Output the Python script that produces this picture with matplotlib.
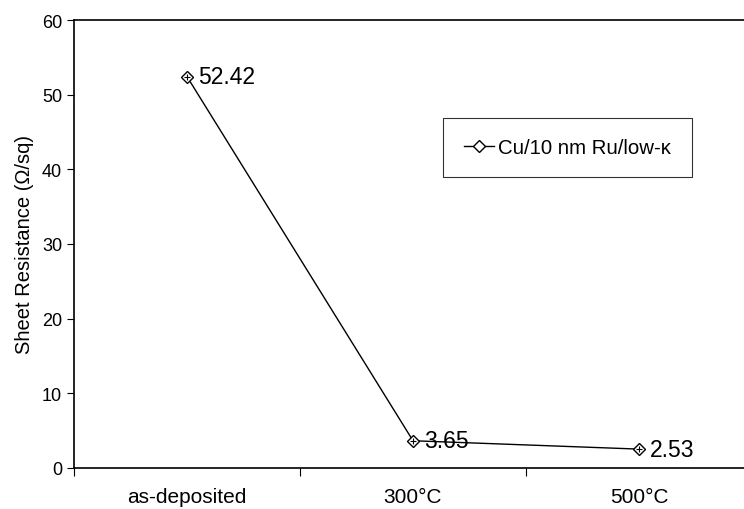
import numpy as np
import matplotlib.pyplot as plt
from matplotlib.ticker import FixedLocator

plt.rcParams['font.family'] = ['Liberation Sans', 'DejaVu Sans']

categories = ['as-deposited', '300°C', '500°C']
resistance = [52.42, 3.65, 2.53]
value_labels = ['52.42', '3.65', '2.53']
series_name = 'Cu/10 nm Ru/low-κ'

fig = plt.figure(figsize=(7.44, 5.10), dpi=100)
ax = fig.add_axes([74 / 744, 41 / 510, 670 / 744, 448 / 510])

x = np.arange(len(categories))
ax.plot(x, resistance, '-', color='black', lw=1.0,
        marker='D', ms=6, mfc='white', mec='black', mew=1.0, label=series_name)
ax.plot(x, resistance, ls='none', marker='+', ms=5, color='black', mew=0.8)

for xi, yi, s in zip(x, resistance, value_labels):
    ax.annotate(s, (xi, yi), xytext=(8, 0), textcoords='offset points',
                va='center', ha='left', fontsize=16.5)

ax.set_xlim(-0.5, -0.5 + 670 / 226)
ax.set_ylim(0, 60)
ax.set_yticks(np.arange(0, 61, 10))
ax.tick_params(axis='y', labelsize=13, length=5, direction='out', width=0.8)

# category labels centred, tick marks at category boundaries
ax.set_xticks(x)
ax.set_xticklabels(categories, fontsize=15)
ax.tick_params(axis='x', which='major', length=0, pad=14)
ax.xaxis.set_minor_locator(FixedLocator([-0.5, 0.5, 1.5, 2.5]))
ax.tick_params(axis='x', which='minor', length=6, direction='out', width=0.8)

ax.set_ylabel('Sheet Resistance (Ω/sq)', fontsize=14.5, labelpad=6)

ax.spines['right'].set_visible(False)
for sp in ['left', 'bottom', 'top']:
    ax.spines[sp].set_linewidth(1.2)

leg = ax.legend(loc='upper left', bbox_to_anchor=(0.551, 0.782), fontsize=14.7,
                frameon=True, fancybox=False, edgecolor='black', borderaxespad=0,
                handlelength=1.5, borderpad=1.0, handletextpad=0.2)
leg.get_frame().set_linewidth(0.8)

plt.savefig('out.png', dpi=100)
